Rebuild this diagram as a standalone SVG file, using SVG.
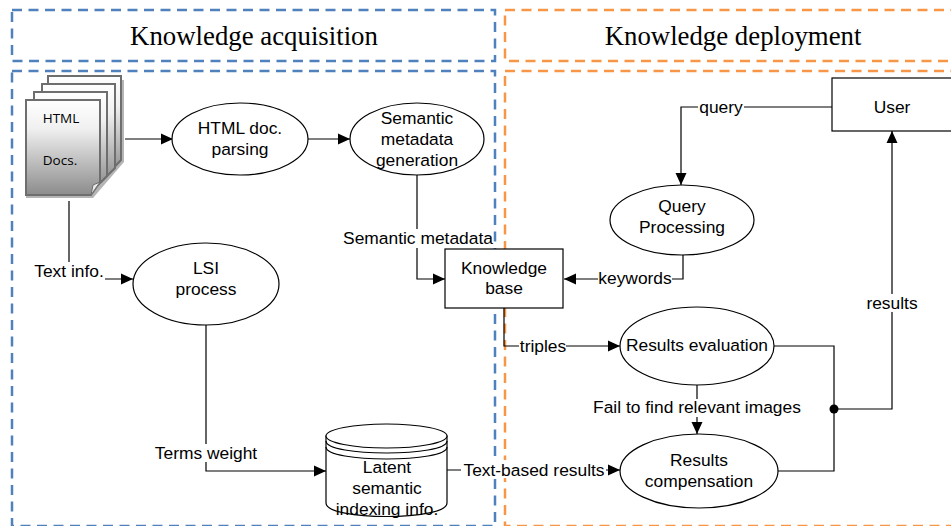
<svg xmlns="http://www.w3.org/2000/svg" width="951" height="526" viewBox="0 0 951 526">
<style>
text{font-family:"Liberation Sans",Arial,sans-serif;font-size:17.4px;fill:#000;text-anchor:middle}
.t{font-family:"Liberation Serif","Times New Roman",serif;font-size:26.8px}
.d{font-family:"Open Sans",sans-serif;font-size:13.5px}
.n{fill:#fff;stroke:#000;stroke-width:1.2}
.r{fill:none;stroke:#000;stroke-width:1.2}
.c{fill:none;stroke:#000;stroke-width:1.2}
.a{marker-end:url(#arr)}
.b{fill:none;stroke:#4f81bd;stroke-width:2.5;stroke-dasharray:10 6.5}
.o{fill:none;stroke:#f79646;stroke-width:2.5;stroke-dasharray:10 6.5}
.p{fill:url(#g);stroke:#6e6e6e;stroke-width:2}
.l{fill:#fff;stroke:none}
</style>
<defs>
<marker id="arr" markerUnits="userSpaceOnUse" markerWidth="12" markerHeight="12" refX="12" refY="6" orient="auto"><path d="M0 0.5L12 6L0 11.5Z" fill="#000"/></marker>
<linearGradient id="g" x1="0" y1="0" x2="0" y2="1"><stop offset="0" stop-color="#fff"/><stop offset="0.3" stop-color="#f0f0f0"/><stop offset="1" stop-color="#8c8c8c"/></linearGradient>
</defs>
<rect width="951" height="526" fill="#fff"/>
<g id="frames">
<rect class="b" x="12" y="10" width="483" height="51"/>
<rect class="o" x="505" y="10" width="460" height="51"/>
<rect class="b" x="12" y="71" width="483" height="455"/>
<rect class="o" x="505" y="71" width="460" height="455"/>
<text class="t" x="254" y="45">Knowledge acquisition</text>
<text class="t" x="733" y="45">Knowledge deployment</text>
</g>
<g id="connectors">
<path class="c a" d="M125 139H173"/>
<path class="c a" d="M308 139H350"/>
<path class="c a" d="M69 201V279H133"/>
<path class="c a" d="M417 170V279H445"/>
<path class="c a" d="M206 325V471H326"/>
<path class="c a" d="M447 470H620"/>
<path class="c a" d="M504 308V346H620"/>
<path class="c a" d="M832 107H681V185"/>
<path class="c a" d="M683 254V279H564"/>
<path class="c a" d="M697 385V434"/>
<path class="c" d="M774 346H834V471H778"/>
<path class="c a" d="M834 409H892V131"/>
<circle cx="834" cy="409" r="4.5" fill="#000"/>
</g>
<g id="docs">
<path d="M29 104H26V198H93L124 162V80H118V104Z" fill="#b5b5b5"/>
<path class="p" d="M48 76H121V160L108 174H48Z"/>
<path class="p" d="M42 84H115V168L101 182H42Z"/>
<path class="p" d="M34 92H107V176L95 188H34Z"/>
<path class="p" d="M26 100H100V182L91 195H26Z"/>
<path d="M100 182L93 185L91 195Z" fill="#e8e8e8" stroke="#6e6e6e"/>
<text class="d" x="61" y="123">HTML</text>
<text class="d" x="60" y="165">Docs.</text>
</g>
<g id="html-parsing">
<ellipse class="n" cx="240" cy="139" rx="68" ry="36"/>
<text x="240" y="134">HTML doc.</text><text x="240" y="155">parsing</text>
</g>
<g id="metadata-generation">
<ellipse class="n" cx="417" cy="139" rx="67" ry="36"/>
<text x="417" y="124">Semantic</text><text x="417" y="145">metadata</text><text x="417" y="166">generation</text>
</g>
<g id="lsi">
<ellipse class="n" cx="206" cy="284" rx="73" ry="41"/>
<text x="206" y="274">LSI</text><text x="206" y="295">process</text>
</g>
<g id="lsi-db">
<path class="n" d="M326 436V503C326 521 447 521 447 503V436Z"/>
<path class="r" d="M326 447C326 463 447 463 447 447"/>
<path class="r" d="M326 441C326 457 447 457 447 441"/>
<ellipse class="n" cx="386.500" cy="436" rx="60.500" ry="12"/>
<text x="387" y="473">Latent</text><text x="387" y="494">semantic</text><text x="387" y="515">indexing info.</text>
</g>
<g id="knowledge-base">
<rect class="n" x="445" y="249" width="118" height="59"/>
<text x="504" y="274">Knowledge</text><text x="504" y="294">base</text>
</g>
<g id="user">
<rect class="n" x="832" y="78" width="122" height="53"/>
<text x="892" y="113">User</text>
</g>
<g id="query-processing">
<ellipse class="n" cx="682" cy="220" rx="72" ry="35"/>
<text x="682" y="212">Query</text><text x="682" y="233">Processing</text>
</g>
<g id="results-evaluation">
<ellipse class="n" cx="697" cy="346" rx="77" ry="39"/>
<text x="697" y="351">Results evaluation</text>
</g>
<g id="results-compensation">
<ellipse class="n" cx="699" cy="471" rx="79" ry="37"/>
<text x="699" y="466">Results</text><text x="699" y="487">compensation</text>
</g>
<g id="connector-labels">
<rect class="l" x="698" y="98" width="46" height="18"/><text x="721" y="113">query</text>
<rect class="l" x="33" y="262" width="72" height="20"/><text x="69" y="277">Text info.</text>
<rect class="l" x="343" y="229" width="150" height="19"/><text x="418" y="244">Semantic metadata</text>
<rect class="l" x="598" y="270" width="74" height="18"/><text x="635" y="284">keywords</text>
<rect class="l" x="519" y="337" width="47" height="18"/><text x="543" y="352">triples</text>
<rect class="l" x="592" y="399" width="211" height="18"/><text x="697" y="413">Fail to find relevant images</text>
<rect class="l" x="154" y="444" width="105" height="18"/><text x="206" y="459">Terms weight</text>
<rect class="l" x="461" y="460" width="145" height="18"/><text x="534" y="476">Text-based results</text>
<rect class="l" x="866" y="294" width="54" height="18"/><text x="892" y="309">results</text>
</g>
</svg>
